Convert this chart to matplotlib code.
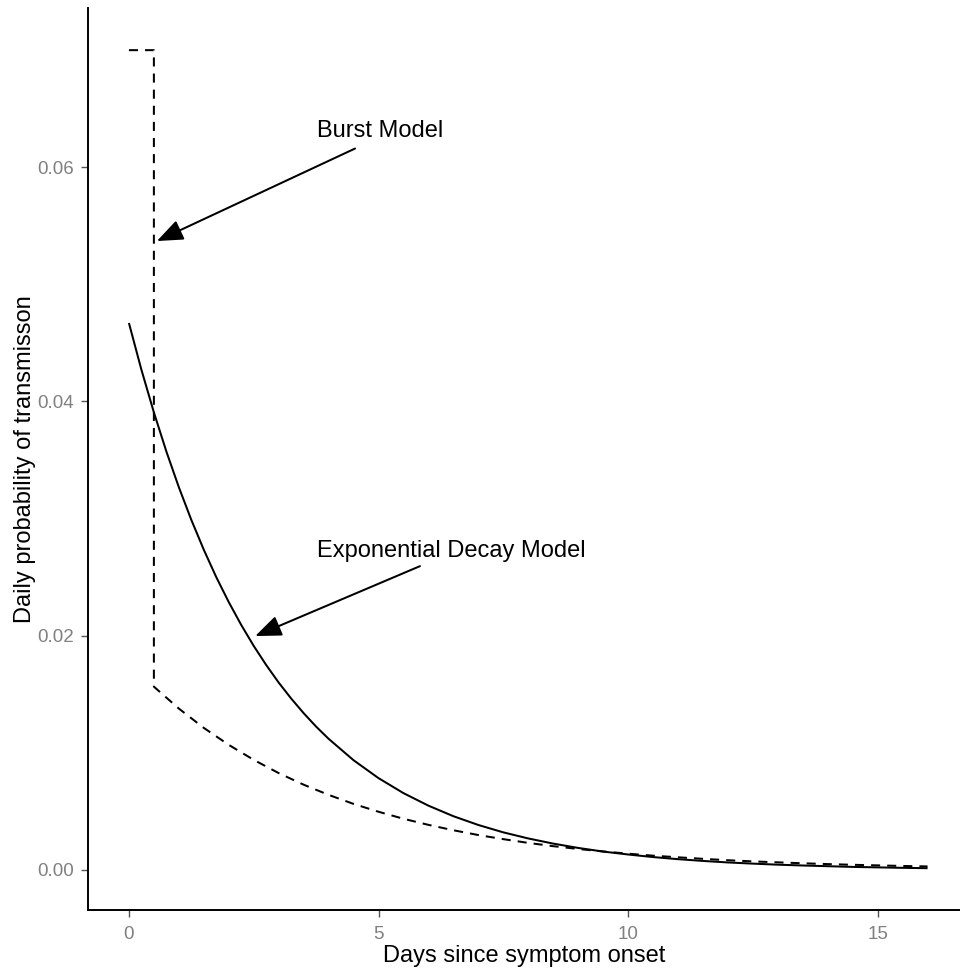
import matplotlib
matplotlib.use("Agg")
import matplotlib.pyplot as plt

plt.rcParams['font.family'] = ['Liberation Sans', 'DejaVu Sans']

# Exponential decay model (solid)
exp_days = [0, 0.25, 0.5, 0.75, 1, 1.25, 1.5, 1.75, 2, 2.25, 2.5, 2.75, 3, 3.25, 3.5,
            3.75, 4, 4.5, 5, 5.5, 6, 6.5, 7, 7.5, 8, 8.5,
            9, 9.5, 10, 10.5, 11, 11.5, 12, 12.5, 13, 13.5, 14, 14.5, 15, 15.5, 16]
exp_prob = [0.04670, 0.04271, 0.03907, 0.03573, 0.03268, 0.02989, 0.02734, 0.02500,
            0.02287, 0.02092, 0.01913, 0.01750, 0.01600, 0.01464, 0.01339, 0.01224,
            0.01120, 0.00937, 0.00784, 0.00656, 0.00549, 0.00459, 0.00384, 0.00321,
            0.00269, 0.00225, 0.00188, 0.00157, 0.00132, 0.00110, 0.00092, 0.00077,
            0.00064, 0.00054, 0.00045, 0.00038, 0.00032, 0.00026, 0.00022, 0.00018,
            0.00015]

# Burst model (dashed)
burst_days = [0, 0.5, 0.5, 1, 1.5, 2, 2.5, 3, 3.5, 4, 4.5, 5, 5.5, 6, 6.5, 7, 7.5, 8,
              8.5, 9, 9.5, 10, 10.5, 11, 11.5, 12, 12.5, 13, 13.5, 14, 14.5, 15, 15.5, 16]
burst_prob = [0.070, 0.070, 0.01565, 0.01378, 0.01213, 0.01068, 0.00940, 0.00827,
              0.00728, 0.00641, 0.00564, 0.00497, 0.00437, 0.00385, 0.00339, 0.00298,
              0.00263, 0.00231, 0.00203, 0.00179, 0.00158, 0.00139, 0.00122, 0.00108,
              0.00095, 0.00083, 0.00073, 0.00065, 0.00057, 0.00050, 0.00044, 0.00039,
              0.00034, 0.00030]

x_ticks = [0, 5, 10, 15]
y_ticks = [0.00, 0.02, 0.04, 0.06]
y_tick_labels = ["0.00", "0.02", "0.04", "0.06"]

fig = plt.figure(figsize=(9.6, 9.69), dpi=100)
ax = fig.add_axes([88/960, 1 - 910/969, 1 - 88/960, 902/969])

ax.plot(exp_days, exp_prob, color='black', lw=1.45, solid_capstyle='butt')
ax.plot(burst_days, burst_prob, color='black', lw=1.45, linestyle=(0, (4.5, 3.5)))

ax.set_xlim(-0.82, 16.65)
ax.set_ylim(-0.00342, 0.0736)

ax.set_xticks(x_ticks)
ax.set_xticklabels([str(v) for v in x_ticks])
ax.set_yticks(y_ticks)
ax.set_yticklabels(y_tick_labels)

for side in ['top', 'right']:
    ax.spines[side].set_visible(False)
for side in ['left', 'bottom']:
    ax.spines[side].set_color('black')
    ax.spines[side].set_linewidth(1.4)

ax.tick_params(axis='both', colors='#555555', labelcolor='#808080', length=5,
               width=1.0, labelsize=13.5)
ax.tick_params(axis='x', pad=6.5)
ax.tick_params(axis='y', pad=5)

ax.set_xlabel("Days since symptom onset", fontsize=17, color='black')
ax.xaxis.set_label_coords(0.5, -0.0385)
ax.set_ylabel("Daily probability of transmisson", fontsize=17, color='black', labelpad=0.8)

arrow_kw = dict(arrowstyle='-|>,head_length=1.0,head_width=0.4', color='black',
                lw=1.45, mutation_scale=16, shrinkA=0, shrinkB=0)

ax.text(3.77, 0.0631, "Burst Model", fontsize=17, ha='left', va='center')
ax.annotate("", xy=(0.56, 0.0537), xytext=(4.53, 0.0616), arrowprops=arrow_kw)

ax.text(3.77, 0.0272, "Exponential Decay Model", fontsize=17, ha='left', va='center')
ax.annotate("", xy=(2.53, 0.01997), xytext=(5.83, 0.02594), arrowprops=arrow_kw)

fig.savefig("out.png", dpi=100)
